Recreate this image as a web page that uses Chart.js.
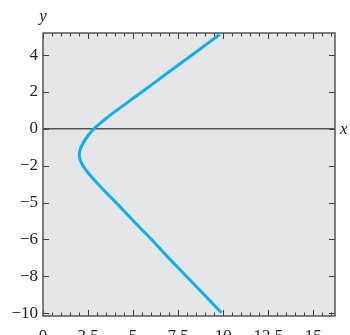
<!DOCTYPE html>
<html>
<head>
<meta charset="utf-8">
<script src="https://cdn.jsdelivr.net/npm/chart.js@4.4.1/dist/chart.umd.min.js"></script>
<style>
  html, body { margin: 0; padding: 0; background: #fff; overflow: hidden; }
  #wrap { position: relative; width: 350px; height: 345px; }
</style>
</head>
<body>
<div id="wrap"><canvas id="myChart" width="350" height="345"></canvas></div>
<script>
// curve, top end -> vertex -> bottom end
var curveX = [9.8, 8.4, 7.0, 5.6, 4.6, 3.7, 3.2, 2.85, 2.5, 2.2, 2.04, 2.03, 2.2, 2.5, 2.95, 3.5, 4.2, 5.15, 6.05, 7.05, 8.45, 9.9];
var curveY = [5.12, 4.1, 3.1, 2.08, 1.37, 0.72, 0.33, 0.02, -0.36, -0.82, -1.2, -1.55, -1.97, -2.38, -2.88, -3.45, -4.15, -5.13, -6.03, -7.08, -8.5, -9.97];

var xTicks = [0, 2.5, 5, 7.5, 10, 12.5, 15];
var xTickLabels = ['0', '2.5', '5', '7.5', '10', '12.5', '15'];
var yTicks = [-10, -8, -6, -4, -2, 0, 2, 4];
var yTickLabels = ['\u221210', '\u22128', '\u22126', '\u22125', '\u22122', '0', '2', '4'];

var xMin = 0, xMax = 16.2, yMin = -10.15, yMax = 5.2;
var minorStep = 0.5;

var points = [];
for (var i = 0; i < curveX.length; i++) {
  points.push({ x: curveX[i], y: curveY[i] });
}

var serif = '"Liberation Serif", "DejaVu Serif", serif';

// grey panel, frame, zero line, inward ticks, axis letters
var framePlugin = {
  id: 'frame',
  beforeDatasetsDraw: function(chart) {
    var c = chart.ctx, a = chart.chartArea;
    var sx = chart.scales.x, sy = chart.scales.y;
    c.save();
    c.fillStyle = '#e5e6e8';
    c.fillRect(a.left, a.top, a.right - a.left, a.bottom - a.top);

    c.strokeStyle = '#3a3a3a';
    c.lineWidth = 1;
    c.beginPath();
    for (var v = xMin; v <= xMax + 1e-6; v += minorStep) {
      var px = Math.round(sx.getPixelForValue(v)) + 0.5;
      var major = Math.abs(v / 2.5 - Math.round(v / 2.5)) < 1e-6;
      var len = major ? 6 : 3.5;
      c.moveTo(px, a.top); c.lineTo(px, a.top + len);
      c.moveTo(px, a.bottom); c.lineTo(px, a.bottom - len);
    }
    yTicks.forEach(function(t) {
      var py = Math.round(sy.getPixelForValue(t)) + 0.5;
      c.moveTo(a.left, py); c.lineTo(a.left + 6, py);
      c.moveTo(a.right, py); c.lineTo(a.right - 6, py);
    });
    c.stroke();

    // zero line
    var y0 = sy.getPixelForValue(0);
    c.strokeStyle = '#555';
    c.lineWidth = 1.5;
    c.beginPath();
    c.moveTo(a.left, y0); c.lineTo(a.right, y0);
    c.stroke();

    // frame
    c.strokeStyle = '#555';
    c.lineWidth = 1.5;
    c.strokeRect(a.left, a.top, a.right - a.left, a.bottom - a.top);

    c.fillStyle = '#222';
    c.font = 'italic 17px ' + serif;
    c.textAlign = 'center';
    c.textBaseline = 'middle';
    c.fillText('y', a.left, 17);
    c.textAlign = 'left';
    c.fillText('x', a.right + 5, y0 + 1);
    c.restore();
  }
};

var ctx = document.getElementById('myChart');

var myChart = new Chart(ctx, {
  type: 'scatter',
  data: {
    datasets: [{
      label: 'curve',
      data: points,
      showLine: true,
      borderColor: '#0db0ec',
      backgroundColor: '#0db0ec',
      borderWidth: 3,
      pointRadius: 0,
      tension: 0.3,
      fill: false
    }]
  },
  options: {
    responsive: false,
    animation: false,
    devicePixelRatio: 1,
    layout: { padding: { left: 0, top: 33, right: 15, bottom: 0 } },
    plugins: {
      legend: { display: false },
      title: { display: false },
      tooltip: { enabled: false }
    },
    scales: {
      x: {
        type: 'linear',
        min: xMin,
        max: xMax,
        afterBuildTicks: function(scale) {
          scale.ticks = xTicks.map(function(v) { return { value: v }; });
        },
        afterFit: function(scale) { scale.height = 29; },
        grid: { display: false, drawTicks: false },
        border: { display: false },
        ticks: {
          autoSkip: false,
          maxRotation: 0,
          padding: 10,
          color: '#222',
          font: { family: serif, size: 17 },
          callback: function(value) {
            var i = xTicks.indexOf(value);
            return i >= 0 ? xTickLabels[i] : '';
          }
        }
      },
      y: {
        type: 'linear',
        min: yMin,
        max: yMax,
        afterBuildTicks: function(scale) {
          scale.ticks = yTicks.map(function(v) { return { value: v }; });
        },
        afterFit: function(scale) { scale.width = 43; },
        grid: { display: false, drawTicks: false },
        border: { display: false },
        ticks: {
          autoSkip: false,
          padding: 5,
          color: '#222',
          font: { family: serif, size: 17 },
          callback: function(value) {
            var i = yTicks.indexOf(value);
            return i >= 0 ? yTickLabels[i] : '';
          }
        }
      }
    }
  },
  plugins: [framePlugin]
});
</script>
</body>
</html>
